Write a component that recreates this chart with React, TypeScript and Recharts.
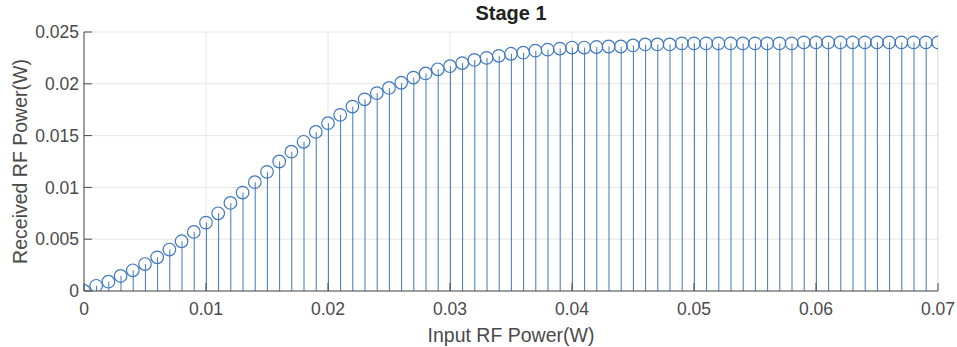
import { ComposedChart, Bar, Line, XAxis, YAxis, CartesianGrid } from "recharts";

// potência de entrada (W), um ponto a cada 1 mW
const inputPower = [
  0, 0.001, 0.002, 0.003, 0.004, 0.005, 0.006, 0.007, 0.008, 0.009,
  0.01, 0.011, 0.012, 0.013, 0.014, 0.015, 0.016, 0.017, 0.018, 0.019,
  0.02, 0.021, 0.022, 0.023, 0.024, 0.025, 0.026, 0.027, 0.028, 0.029,
  0.03, 0.031, 0.032, 0.033, 0.034, 0.035, 0.036, 0.037, 0.038, 0.039,
  0.04, 0.041, 0.042, 0.043, 0.044, 0.045, 0.046, 0.047, 0.048, 0.049,
  0.05, 0.051, 0.052, 0.053, 0.054, 0.055, 0.056, 0.057, 0.058, 0.059,
  0.06, 0.061, 0.062, 0.063, 0.064, 0.065, 0.066, 0.067, 0.068, 0.069,
  0.07,
];

// potência recebida (W)
const receivedPower = [
  0, 0.0005, 0.0009, 0.00145, 0.002, 0.0026, 0.00325, 0.004, 0.0048, 0.0057,
  0.0066, 0.0075, 0.0085, 0.0095, 0.0105, 0.0115, 0.0125, 0.01345, 0.0144, 0.01535,
  0.0162, 0.017, 0.0178, 0.0185, 0.0191, 0.0196, 0.0201, 0.0206, 0.021, 0.0214,
  0.0217, 0.022, 0.0223, 0.0225, 0.0227, 0.0229, 0.023, 0.0232, 0.0233, 0.0234,
  0.0235, 0.0235, 0.02355, 0.0236, 0.0236, 0.0237, 0.0238, 0.0238, 0.0238, 0.0239,
  0.0239, 0.0239, 0.0239, 0.0239, 0.0239, 0.0239, 0.0239, 0.0239, 0.0239, 0.024,
  0.024, 0.024, 0.024, 0.024, 0.024, 0.024, 0.024, 0.024, 0.024, 0.024,
  0.024,
];

const xTicks = [0, 0.01, 0.02, 0.03, 0.04, 0.05, 0.06, 0.07];
const yTicks = [0, 0.005, 0.01, 0.015, 0.02, 0.025];

const dados = inputPower.map((x, i) => ({ x, y: receivedPower[i] }));

const AZUL = "#3d78c0";
const EIXO = "#4a4a4a";
const FONTE = "'Liberation Sans', Arial, Helvetica, sans-serif";

export default function App() {
  return (
    <div style={{ position: "absolute", left: 0, top: 0, width: 957, height: 347, background: "#fff", fontFamily: FONTE }}>
      {/* título fora do svg, centralizado sobre a área do gráfico */}
      <div
        style={{
          position: "absolute",
          left: 84,
          width: 854,
          top: 2,
          textAlign: "center",
          fontWeight: "bold",
          fontSize: 20,
          color: "#222",
        }}
      >
        Stage 1
      </div>
      <ComposedChart width={957} height={347} data={dados} margin={{ top: 32, right: 19, left: 0, bottom: 0 }}>
        <CartesianGrid stroke="#e6e6e6" strokeWidth={1} />
        <XAxis
          dataKey="x"
          type="number"
          domain={[0, 0.07]}
          allowDataOverflow
          ticks={xTicks}
          height={56}
          tickSize={-8}
          tickMargin={20}
          stroke={EIXO}
          tick={{ fill: EIXO, fontSize: 17.5, fontFamily: FONTE }}
          label={{ value: "Input RF Power(W)", position: "insideBottom", offset: 5, fill: EIXO, fontSize: 19.5, fontFamily: FONTE }}
        />
        <YAxis
          type="number"
          domain={[0, 0.025]}
          allowDataOverflow
          ticks={yTicks}
          width={84}
          tickSize={-8}
          tickMargin={13}
          stroke={EIXO}
          tick={{ fill: EIXO, fontSize: 17.5, fontFamily: FONTE }}
          label={{ value: "Received RF Power(W)", angle: -90, position: "center", dx: -22, fill: EIXO, fontSize: 19.5, fontFamily: FONTE }}
        />
        {/* eixos de cima e da direita só para fechar a caixa com marcas internas */}
        <XAxis
          xAxisId="topo"
          orientation="top"
          dataKey="x"
          type="number"
          domain={[0, 0.07]}
          allowDataOverflow
          ticks={xTicks}
          height={0}
          tickSize={-8}
          stroke={EIXO}
          tick={false}
        />
        <YAxis
          yAxisId="dir"
          orientation="right"
          type="number"
          domain={[0, 0.025]}
          allowDataOverflow
          ticks={yTicks}
          width={0}
          tickSize={-8}
          stroke={EIXO}
          tick={false}
        />
        <Bar dataKey="y" barSize={1} fill={AZUL} isAnimationActive={false} />
        <Line
          dataKey="y"
          stroke="none"
          dot={{ r: 6.3, fill: "none", stroke: AZUL, strokeWidth: 1.2 }}
          activeDot={false}
          isAnimationActive={false}
        />
        <Line dataKey="y" xAxisId="topo" yAxisId="dir" stroke="none" dot={false} activeDot={false} isAnimationActive={false} />
      </ComposedChart>
    </div>
  );
}
